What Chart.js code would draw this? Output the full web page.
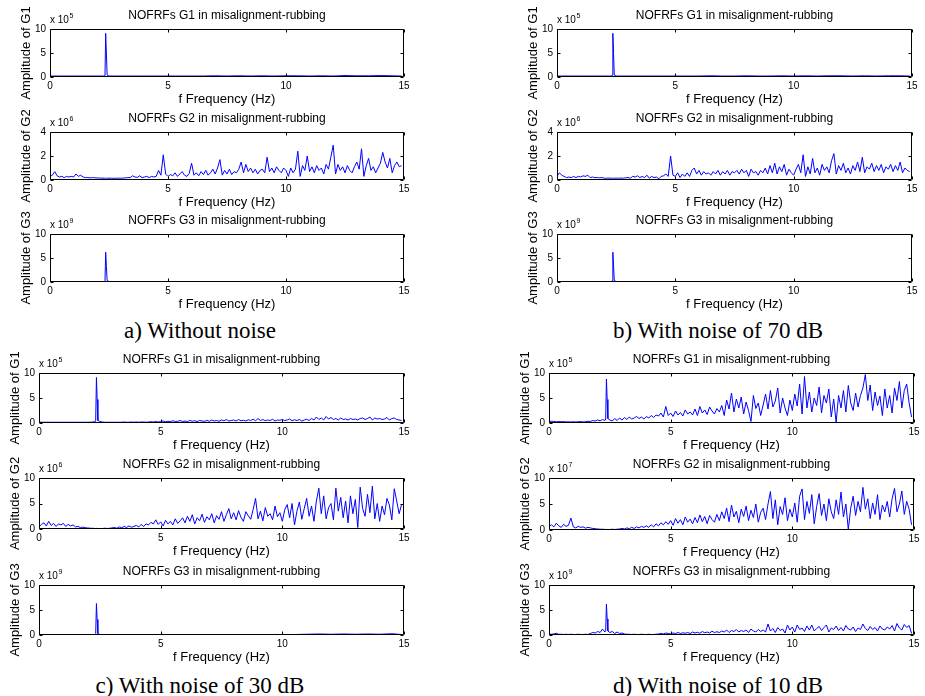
<!DOCTYPE html>
<html>
<head>
<meta charset="utf-8">
<script src="https://cdn.jsdelivr.net/npm/chart.js@4.4.1/dist/chart.umd.min.js"></script>
<style>
html,body{margin:0;padding:0;background:#fff;}
body{width:925px;height:696px;position:relative;overflow:hidden;}
canvas{position:absolute;}
.cap{position:absolute;font-family:"Liberation Serif","Times New Roman",serif;font-size:23px;line-height:23px;color:#000;white-space:nowrap;transform:translateX(-50%);}
</style>
</head>
<body>
<div class="cap" style="left:200px;top:319px;">a) Without noise</div>
<div class="cap" style="left:718px;top:319px;">b) With noise of 70 dB</div>
<div class="cap" style="left:200px;top:674px;">c) With noise of 30 dB</div>
<div class="cap" style="left:718px;top:674px;">d) With noise of 10 dB</div>
<script>
// ---------- frequency axes (Hz) ----------
const freqSparse = [0,0.5,1,1.5,2,2.3,2.33,2.36,2.39,2.42,2.5,3,3.5,4,4.5,5,5.5,6,6.5,7,7.5,8,8.5,9,9.5,10,10.5,11,11.5,12,12.5,13,13.5,14,14.5,14.9];
const freqDense = [0,0.1,0.2,0.3,0.4,0.5,0.6,0.7,0.8,0.9,
  1,1.1,1.2,1.3,1.4,1.5,1.6,1.7,1.8,1.9,
  2,2.1,2.2,2.3,2.33,2.36,2.39,2.42,2.5,2.6,2.7,2.8,2.9,
  3,3.1,3.2,3.3,3.4,3.5,3.6,3.7,3.8,3.9,
  4,4.1,4.2,4.3,4.4,4.5,4.6,4.7,4.8,4.9,
  5,5.1,5.2,5.3,5.4,5.5,5.6,5.7,5.8,5.9,
  6,6.1,6.2,6.3,6.4,6.5,6.6,6.7,6.8,6.9,
  7,7.1,7.2,7.3,7.4,7.5,7.6,7.7,7.8,7.9,
  8,8.1,8.2,8.3,8.4,8.5,8.6,8.7,8.8,8.9,
  9,9.1,9.2,9.3,9.4,9.5,9.6,9.7,9.8,9.9,
  10,10.1,10.2,10.3,10.4,10.5,10.6,10.7,10.8,10.9,
  11,11.1,11.2,11.3,11.4,11.5,11.6,11.7,11.8,11.9,
  12,12.1,12.2,12.3,12.4,12.5,12.6,12.7,12.8,12.9,
  13,13.1,13.2,13.3,13.4,13.5,13.6,13.7,13.8,13.9,
  14,14.1,14.2,14.3,14.4,14.5,14.6,14.7,14.8,14.9];

// ---------- a) without noise ----------
const aG1 = [0.2,0.2,0.2,0.2,0.2, 0.2,0.4,9.1,4.8,0.4,0.2,
  0.2,0.2,0.2,0.2,0.2,0.2,0.2,0.2,0.25,0.2,0.25,0.2,0.25,0.2,0.25,0.25,0.2,0.25,0.2,0.3,0.25,0.25,0.3,0.25, 0.2];
const aG2 = [0.3,0.4,0.7,0.35,0.25,0.3,0.2,0.3,0.25,0.3,
  0.25,0.5,0.3,0.4,0.25,0.2,0.2,0.18,0.2,0.18,
  0.17,0.16,0.16,0.15, 0.15,0.15,0.15,0.15, 0.15,0.15,0.14,0.15,0.15,
  0.15,0.16,0.18,0.2,0.2,0.35,0.25,0.22,0.35,0.2,
  0.25,0.3,0.2,0.3,0.25,0.3,0.8,0.4,2.1,0.5,
  0.3,0.45,0.35,0.6,0.3,0.5,0.7,0.4,0.3,0.55,
  1.4,0.4,0.6,0.35,0.7,0.45,0.8,0.4,0.6,0.9,
  0.5,1.0,1.7,0.4,0.8,0.5,0.9,0.45,0.7,0.6,
  0.9,1.5,0.6,1.3,0.7,1.0,0.6,0.9,0.5,0.8,
  0.9,0.6,1.9,0.7,1.0,0.6,1.1,0.8,0.6,1.0,
  0.8,0.3,1.0,0.6,0.9,2.4,0.3,1.2,0.8,2.0,
  0.7,1.1,0.6,1.2,0.8,1.0,0.5,1.3,0.9,1.9,
  2.9,0.5,1.3,0.8,1.1,0.6,1.2,0.8,0.6,1.1,
  1.5,0.9,2.6,0.3,1.2,1.8,0.8,1.1,0.6,1.0,
  1.4,2.3,1.5,1.0,1.8,0.6,1.2,1.5,1.1,1.2];
const aG3 = [0.1,0.1,0.1,0.1,0.1, 0.1,0.3,6.2,3.2,0.3,0.1,
  0.1,0.1,0.1,0.1,0.1,0.1,0.1,0.1,0.1,0.1,0.1,0.1,0.1,0.1,0.1,0.1,0.1,0.1,0.1,0.1,0.1,0.1,0.1,0.1, 0.1];

// ---------- b) noise 70 dB ----------
const bG1 = [0.2,0.2,0.2,0.2,0.2, 0.2,0.4,9.1,4.9,0.4,0.2,
  0.2,0.2,0.2,0.2,0.2,0.2,0.2,0.25,0.2,0.2,0.25,0.2,0.2,0.25,0.2,0.25,0.2,0.25,0.25,0.2,0.25,0.2,0.25,0.25, 0.2];
const bG2 = [0.3,0.6,0.4,0.3,0.2,0.25,0.2,0.3,0.2,0.3,
  0.25,0.35,0.3,0.4,0.2,0.25,0.2,0.2,0.18,0.2,
  0.15,0.15,0.16,0.15, 0.14,0.15,0.15,0.15, 0.15,0.15,0.16,0.15,0.18,
  0.2,0.15,0.3,0.25,0.35,0.2,0.3,0.2,0.4,0.15,
  0.3,0.2,0.25,0.1,0.3,0.35,0.5,0.3,2.0,0.4,
  0.3,0.6,0.2,0.5,0.3,0.6,0.3,0.8,1.0,0.5,
  0.8,0.4,0.7,0.5,0.6,0.4,0.7,0.5,0.8,0.4,
  0.7,0.5,0.8,0.4,0.7,0.6,0.8,0.5,0.9,0.6,
  0.8,0.3,0.9,0.6,0.7,0.4,0.8,0.6,1.0,0.5,
  1.2,0.6,1.4,0.5,1.1,0.7,1.3,0.4,0.9,0.6,
  0.4,0.9,1.3,0.6,2.1,0.3,1.1,0.5,1.8,0.6,
  1.0,0.4,1.3,0.8,1.1,0.6,1.6,2.2,0.5,1.2,
  0.8,1.4,0.6,1.0,0.5,1.2,0.8,1.5,0.7,1.9,
  0.6,1.1,0.9,1.4,0.7,1.2,0.8,1.3,0.6,1.1,
  0.9,1.3,0.7,1.2,0.8,1.5,0.6,1.0,0.8,0.7];
const bG3 = [0.1,0.1,0.1,0.1,0.1, 0.1,0.3,6.2,3.3,0.3,0.1,
  0.1,0.1,0.1,0.1,0.1,0.1,0.1,0.1,0.1,0.1,0.1,0.1,0.1,0.1,0.1,0.1,0.1,0.1,0.1,0.1,0.1,0.1,0.1,0.1, 0.1];

// ---------- c) noise 30 dB ----------
const cG1 = [0.2,0.15,0.15,0.15,0.15,0.15,0.15,0.15,0.15,0.15,
  0.15,0.15,0.15,0.15,0.15,0.15,0.15,0.15,0.15,0.15,
  0.15,0.15,0.2,0.25, 0.4,9.1,4.7,0.5, 0.3,0.2,0.15,0.15,0.15,
  0.15,0.15,0.15,0.15,0.15,0.2,0.15,0.15,0.2,0.15,
  0.2,0.15,0.2,0.2,0.15,0.2,0.25,0.2,0.3,0.2,
  0.3,0.4,0.25,0.35,0.3,0.45,0.3,0.35,0.5,0.3,
  0.4,0.3,0.5,0.35,0.45,0.3,0.5,0.4,0.35,0.5,
  0.35,0.6,0.4,0.5,0.35,0.6,0.45,0.7,0.4,0.5,
  0.6,0.4,0.7,0.45,0.55,0.4,0.65,0.5,0.75,0.45,
  0.9,0.5,0.7,0.45,0.6,0.5,0.75,0.4,0.6,0.55,
  0.7,0.5,0.6,0.8,0.45,0.65,0.5,0.7,0.4,0.6,
  0.75,0.5,0.9,0.6,1.2,0.7,1.0,0.6,1.3,0.8,
  1.1,0.7,0.9,0.6,1.0,0.7,0.8,0.6,0.9,0.7,
  0.8,0.6,0.9,1.0,0.7,0.9,1.2,0.6,1.0,0.8,
  0.9,0.7,0.8,1.1,0.6,0.9,1.0,0.7,0.6,0.5];
const cG2 = [0.4,0.9,1.2,0.6,1.5,0.7,1.1,0.5,1.0,0.8,
  1.1,0.5,0.9,0.6,0.8,0.4,0.5,0.3,0.35,0.25,
  0.2,0.15,0.15,0.1, 0.1,0.12,0.1,0.1, 0.1,0.1,0.15,0.1,0.15,
  0.2,0.3,0.15,0.4,0.25,0.5,0.3,0.6,0.35,0.5,
  0.7,0.4,0.9,0.5,1.0,0.8,1.3,1.0,1.8,0.9,
  1.4,0.6,1.7,1.0,1.5,0.8,2.0,1.1,1.6,2.2,
  1.2,2.5,1.5,2.8,1.0,2.2,1.6,2.9,1.3,2.4,
  1.8,3.0,1.2,2.6,1.9,3.4,1.5,2.8,4.0,2.0,
  3.2,1.8,3.6,2.3,1.5,3.4,2.6,1.9,3.8,6.0,
  2.0,3.5,1.6,4.2,2.5,3.0,1.8,4.5,2.4,3.2,
  1.5,3.8,4.8,2.2,5.0,0.8,3.5,5.3,1.9,4.0,
  6.0,2.5,4.5,1.5,5.5,8.0,3.0,6.5,2.0,4.2,
  5.0,1.8,8.0,3.5,6.2,2.2,5.5,1.2,6.5,3.0,
  5.8,0.3,8.2,4.0,2.5,6.8,3.2,8.4,2.0,5.0,
  1.5,4.5,2.8,6.0,4.7,1.8,7.9,5.5,3.0,4.8];
const cG3 = [0.1,0.1,0.1,0.1,0.1, 0.1,0.3,6.3,3.1,0.3,0.1,
  0.1,0.1,0.1,0.1,0.1,0.1,0.1,0.1,0.1,0.1,0.1,0.1,0.1,0.1,0.1,0.1,0.15,0.2,0.15,0.2,0.15,0.2,0.15,0.25, 0.1];

// ---------- d) noise 10 dB ----------
const dG1 = [0.3,0.35,0.3,0.25,0.3,0.25,0.3,0.2,0.25,0.2,
  0.25,0.2,0.25,0.3,0.2,0.25,0.35,0.3,0.5,0.4,
  0.6,0.45,0.7,0.5, 0.8,8.8,4.7,0.9, 0.6,0.4,0.9,0.5,1.0,
  0.6,1.1,0.7,1.2,0.8,1.0,1.3,0.9,1.2,0.8,
  1.3,1.0,1.5,1.1,1.6,1.4,2.0,1.2,3.3,1.5,
  2.0,1.3,2.4,1.6,2.1,1.4,2.6,1.8,2.2,1.6,
  2.8,1.5,3.3,2.0,2.6,1.7,3.2,2.4,1.8,2.9,
  2.2,3.5,1.5,4.6,2.8,6.0,2.2,4.8,3.0,5.2,
  1.8,4.2,2.5,0.3,5.5,2.9,4.0,1.5,3.6,5.8,
  2.8,6.5,3.2,4.4,7.0,2.0,5.0,3.0,1.5,4.6,
  2.5,5.8,3.4,7.8,1.8,9.3,3.0,6.2,2.2,5.0,
  3.5,7.2,2.0,5.5,4.0,6.8,1.2,4.8,0.1,5.5,
  3.0,6.5,2.2,7.5,4.0,2.5,6.0,3.2,5.5,7.0,
  9.7,4.5,7.6,2.5,6.2,3.5,5.4,1.5,6.8,3.0,
  5.5,2.0,7.0,4.5,8.3,3.0,6.5,7.8,4.0,1.2];
const dG2 = [0.7,1.0,0.6,1.3,0.8,0.5,1.1,0.7,0.9,2.3,
  0.6,0.4,0.7,0.5,0.6,0.35,0.5,0.4,0.3,0.25,
  0.2,0.15,0.15,0.1, 0.1,0.12,0.1,0.1, 0.1,0.15,0.1,0.15,0.2,
  0.3,0.2,0.4,0.25,0.5,0.3,0.6,0.4,0.7,0.5,
  0.8,0.5,1.0,0.6,1.2,0.8,1.4,1.0,1.6,1.1,
  1.8,0.9,2.2,1.3,2.0,1.0,2.5,1.5,2.1,1.2,
  2.4,1.4,2.9,1.6,2.6,1.2,2.8,2.0,1.5,3.0,
  1.8,3.5,2.2,4.2,1.6,4.8,2.5,3.6,1.4,4.0,
  2.6,4.6,1.8,3.8,2.4,5.0,1.5,3.4,4.2,2.0,
  5.0,7.4,2.2,5.8,1.0,4.5,3.0,6.2,1.8,4.0,
  2.5,5.2,1.5,6.5,7.9,2.0,5.5,3.2,6.8,1.2,
  4.5,7.0,2.8,5.0,1.8,6.0,3.5,2.2,5.8,3.0,
  7.3,2.5,5.0,0.1,4.2,6.5,2.8,5.5,3.5,8.2,
  4.0,6.0,2.2,5.2,3.0,6.8,2.0,4.8,3.5,5.5,
  2.5,6.0,8.0,3.5,5.0,7.5,3.0,5.5,4.0,1.0];
const dG3 = [0.15,0.15,0.2,0.35,0.15,0.15,0.1,0.15,0.1,0.15,
  0.1,0.1,0.15,0.1,0.1,0.15,0.1,0.3,0.5,0.4,
  0.7,0.5,1.2,0.6, 0.9,6.2,3.2,0.8, 0.5,0.7,0.3,0.6,0.3,
  0.4,0.2,0.15,0.15,0.1,0.15,0.1,0.1,0.15,0.1,
  0.1,0.15,0.1,0.1,0.15,0.2,0.3,0.2,0.4,0.3,
  0.25,0.4,0.3,0.5,0.3,0.45,0.35,0.5,0.3,0.6,
  0.4,0.55,0.35,0.7,0.45,0.6,0.4,0.75,0.5,0.65,
  0.5,0.8,0.6,1.0,0.5,0.9,0.7,1.1,0.6,0.9,
  0.7,1.0,0.5,1.2,0.8,0.6,1.1,0.7,1.0,0.6,
  2.2,0.8,1.3,0.5,1.5,0.9,1.2,0.4,2.0,1.0,
  1.6,0.6,2.0,1.1,1.4,0.7,1.8,1.0,2.0,0.8,
  1.3,1.7,0.9,1.5,2.0,0.6,1.4,1.1,1.8,0.9,
  1.5,0.8,1.9,1.2,1.0,1.6,0.7,1.4,1.1,2.2,
  1.3,0.9,1.7,1.1,1.5,0.8,1.8,1.2,1.0,1.6,
  1.2,1.9,0.8,2.3,1.4,1.0,2.1,1.5,1.9,0.3];

// ---------- axis texts ----------
const xTitle = 'f Frequency (Hz)';
const xTicks = [0, 5, 10, 15];
const FONT = '"Liberation Sans", Arial, Helvetica, sans-serif';
Chart.defaults.font.family = FONT;
Chart.defaults.color = '#000';

const framePlugin = {
  id: 'frame',
  afterDatasetsDraw(chart, args, opts) {
    const {ctx, chartArea: a, scales: {x, y}} = chart;
    const L = Math.round(a.left) + 0.5, R = Math.round(a.right) - 0.5;
    const T = Math.round(a.top) + 0.5, B = Math.round(a.bottom) - 0.5;
    ctx.save();
    ctx.strokeStyle = '#000';
    ctx.lineWidth = 1;
    ctx.beginPath();
    ctx.rect(L, T, R - L, B - T);
    const tl = 3;
    x.ticks.forEach(t => {
      const px = Math.round(x.getPixelForValue(t.value)) + 0.5;
      ctx.moveTo(px, B); ctx.lineTo(px, B - tl);
      ctx.moveTo(px, T); ctx.lineTo(px, T + tl);
    });
    y.ticks.forEach(t => {
      const py = Math.round(y.getPixelForValue(t.value)) + 0.5;
      ctx.moveTo(L, py); ctx.lineTo(L + tl, py);
      ctx.moveTo(R, py); ctx.lineTo(R - tl, py);
    });
    ctx.stroke();
    // exponent multiplier
    ctx.fillStyle = '#000';
    ctx.textBaseline = 'alphabetic';
    ctx.textAlign = 'left';
    ctx.font = '10px ' + FONT;
    const base = 'x 10';
    ctx.fillText(base, a.left, a.top - 6);
    const w = ctx.measureText(base).width;
    ctx.font = '7px ' + FONT;
    ctx.fillText(opts.exp, a.left + w + 0.5, a.top - 11);
    ctx.restore();
  }
};

const plots = [
  {rect:[50,29,404,77],   labels:freqSparse, data:aG1, g:'G1', exp:'5', yMax:10, step:5},
  {rect:[50,132,404,180], labels:freqDense,  data:aG2, g:'G2', exp:'6', yMax:4,  step:2},
  {rect:[50,234,404,282], labels:freqSparse, data:aG3, g:'G3', exp:'9', yMax:10, step:5},
  {rect:[557,29,912,77],   labels:freqSparse, data:bG1, g:'G1', exp:'5', yMax:10, step:5},
  {rect:[557,132,912,180], labels:freqDense,  data:bG2, g:'G2', exp:'6', yMax:4,  step:2},
  {rect:[557,234,912,282], labels:freqSparse, data:bG3, g:'G3', exp:'9', yMax:10, step:5},
  {rect:[39,373,404,423], labels:freqDense,  data:cG1, g:'G1', exp:'5', yMax:10, step:5},
  {rect:[39,478,404,529], labels:freqDense,  data:cG2, g:'G2', exp:'6', yMax:10, step:5},
  {rect:[39,585,404,635], labels:freqSparse, data:cG3, g:'G3', exp:'9', yMax:10, step:5},
  {rect:[549,373,914,423], labels:freqDense, data:dG1, g:'G1', exp:'5', yMax:10, step:5},
  {rect:[549,478,914,530], labels:freqDense, data:dG2, g:'G2', exp:'7', yMax:10, step:5},
  {rect:[549,585,914,635], labels:freqDense, data:dG3, g:'G3', exp:'9', yMax:10, step:5}
];

plots.forEach(p => {
  const [l, t, r, b] = p.rect;
  const canvas = document.createElement('canvas');
  document.body.appendChild(canvas);
  canvas.width = (r - l) + 32 + 20;
  canvas.height = (b - t) + 10 + 21 + 30 + 20;
  canvas.style.width = canvas.width + 'px';
  canvas.style.height = canvas.height + 'px';
  const chart = new Chart(canvas, {
    type: 'line',
    data: {
      labels: p.labels,
      datasets: [{data: p.data, borderColor: '#0000ff', borderWidth: 1, pointRadius: 0, tension: 0, fill: false}]
    },
    options: {
      responsive: false,
      animation: false,
      events: [],
      devicePixelRatio: 1,
      layout: {padding: {left: 0, right: 20, top: 10, bottom: 20}},
      plugins: {
        legend: {display: false},
        tooltip: {enabled: false},
        title: {display: true, text: 'NOFRFs ' + p.g + ' in misalignment-rubbing', fullSize: false,
          color: '#000', font: {size: 12, weight: 'normal', lineHeight: '15px'}, padding: {top: 0, bottom: 6}},
        frame: {exp: p.exp}
      },
      scales: {
        x: {
          type: 'linear', min: 0, max: 15,
          afterBuildTicks: s => { s.ticks = xTicks.map(v => ({value: v})); },
          ticks: {color: '#000', font: {size: 10, lineHeight: '12px'}, padding: 3, maxRotation: 0, autoSkip: false},
          grid: {display: false, drawTicks: false},
          border: {display: false},
          title: {display: true, text: xTitle, color: '#000', font: {size: 13, lineHeight: '16px'}, padding: 0},
          afterFit: s => { s.height = 30; }
        },
        y: {
          type: 'linear', min: 0, max: p.yMax,
          ticks: {stepSize: p.step, color: '#000', font: {size: 10, lineHeight: '12px'}, padding: 4},
          grid: {display: false, drawTicks: false},
          border: {display: false},
          title: {display: true, text: 'Amplitude of ' + p.g, color: '#000', font: {size: 13, lineHeight: '16px'}, padding: 0},
          afterFit: s => { s.width = 32; }
        }
      }
    },
    plugins: [framePlugin]
  });
  let ca = chart.chartArea;
  const dw = (r - l) - (ca.right - ca.left);
  const dh = (b - t) - (ca.bottom - ca.top);
  if (Math.abs(dw) > 0.01 || Math.abs(dh) > 0.01) {
    chart.resize(Math.round(chart.width + dw), Math.round(chart.height + dh));
    ca = chart.chartArea;
  }
  canvas.style.left = (l - ca.left) + 'px';
  canvas.style.top = (t - ca.top) + 'px';
});
</script>
</body>
</html>
